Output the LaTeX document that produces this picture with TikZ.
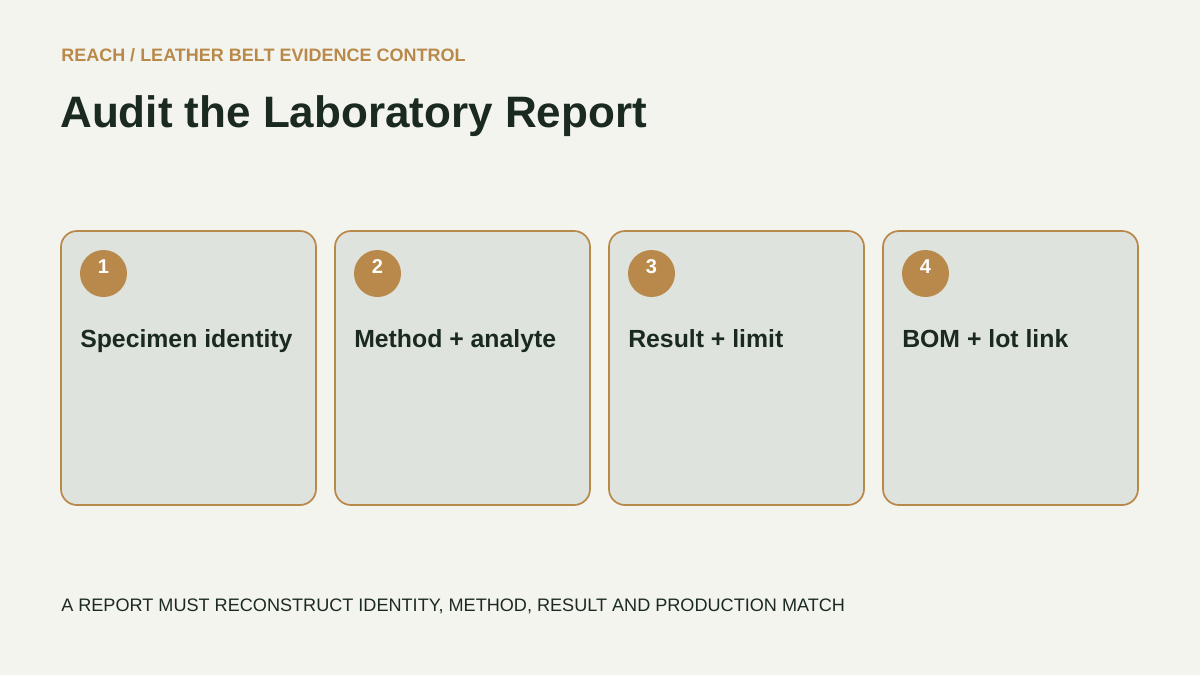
\documentclass[tikz,border=0pt]{standalone}
\usepackage{fontspec}
\setmainfont{Liberation Sans}
\definecolor{bg}{HTML}{F4F4EF}
\definecolor{gold}{HTML}{B8894A}
\definecolor{cardfill}{HTML}{DFE3DD}
\definecolor{ink}{HTML}{1B2A20}
\tikzset{
  card/.style={draw=gold, line width=1.3pt, fill=cardfill, rounded corners=12pt},
  badge/.style={circle, fill=gold, minimum size=35.25pt, inner sep=0pt},
  badgenum/.style={anchor=base, inner sep=0pt, text=white, font=\fontsize{15}{18}\selectfont\bfseries},
  cardtitle/.style={anchor=base west, inner sep=0pt, text=ink, font=\fontsize{18.6}{22}\selectfont\bfseries},
  txt/.style={anchor=base west, inner sep=0pt}
}
\begin{document}
\begin{tikzpicture}[x=0.75pt, y=-0.75pt]
\fill[bg] (0,0) rectangle (1200,675);
\useasboundingbox (0,0) rectangle (1200,675);
\node[txt, text=gold, font=\fontsize{13.5}{16}\selectfont\bfseries] (kicker) at (61,61) {REACH / LEATHER BELT EVIDENCE CONTROL};
\node[txt, text=ink, font=\fontsize{33}{40}\selectfont\bfseries] (title) at (60,127) {Audit the Laboratory Report};
\foreach \i/\x/\t in {1/61/Specimen identity, 2/335/Method + analyte, 3/609/Result + limit, 4/883/BOM + lot link}{
  \draw[card] (\x,231) rectangle ++(255,274);
  \node[badge] (b\i) at (\x+42.5,273.5) {};
  \node[badgenum] (n\i) at (\x+42.5,273) {\i};
  \node[cardtitle] (t\i) at (\x+19,347) {\t};
}
\node[txt, text=ink, font=\fontsize{13.57}{16}\selectfont] (foot) at (61,611) {A REPORT MUST RECONSTRUCT IDENTITY, METHOD, RESULT AND PRODUCTION MATCH};
\end{tikzpicture}
\end{document}
